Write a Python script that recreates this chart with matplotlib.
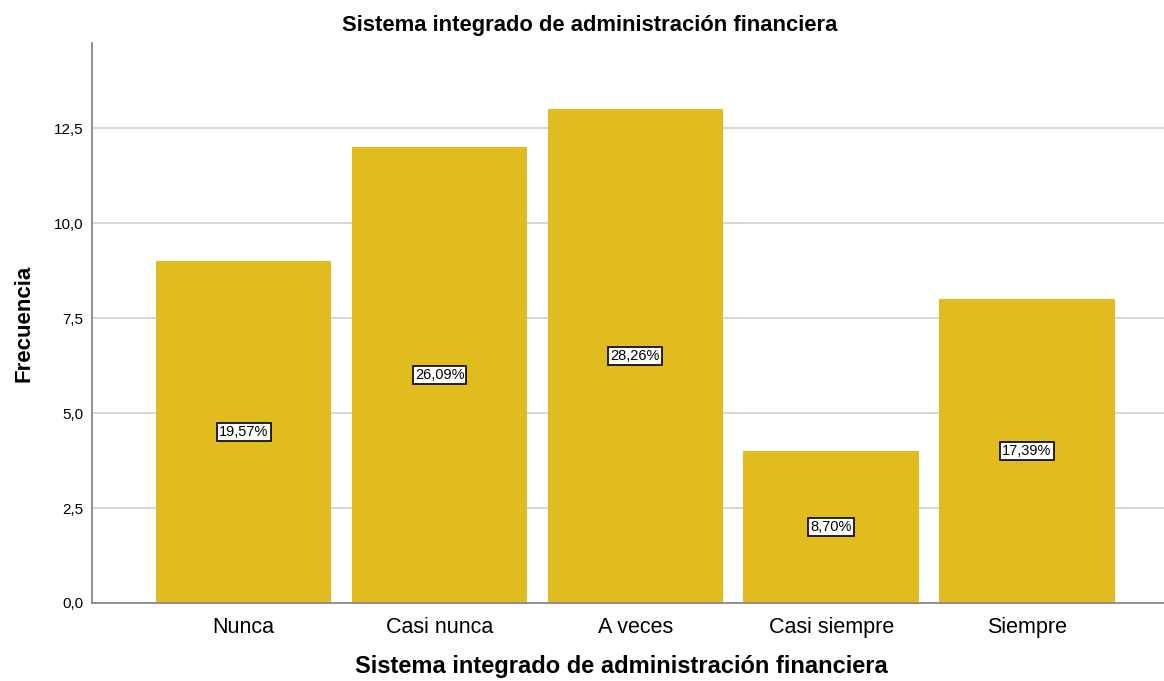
import matplotlib
matplotlib.use("Agg")
import matplotlib.pyplot as plt
from matplotlib.ticker import FuncFormatter

categories = ["Nunca", "Casi nunca", "A veces", "Casi siempre", "Siempre"]
counts = [9, 12, 13, 4, 8]
pct_labels = ["19,57%", "26,09%", "28,26%", "8,70%", "17,39%"]
yticks = [0, 2.5, 5.0, 7.5, 10.0, 12.5]

plt.rcParams['font.family'] = ['Liberation Sans', 'DejaVu Sans']

fig = plt.figure(figsize=(11.64, 6.81), dpi=100)
ax = fig.add_axes([92/1164, 1-603/681, 1-92/1164, (603-43)/681])

x = list(range(len(categories)))
ax.bar(x, counts, width=0.896, color='#E0BC1E', zorder=2)
for xi, c, lab in zip(x, counts, pct_labels):
    ax.text(xi, c/2, lab, ha='center', va='center', fontsize=10.5, zorder=4,
            bbox=dict(boxstyle='square,pad=0.15', facecolor='white', edgecolor='black', linewidth=1.2))

ax.set_xlim(-0.775, 4.70)
ax.set_ylim(0, 14.74)
ax.set_yticks(yticks)
ax.yaxis.set_major_formatter(FuncFormatter(lambda v, p: f"{v:.1f}".replace('.', ',')))
ax.set_xticks(x)
ax.set_xticklabels(categories, fontsize=15.5)
ax.tick_params(axis='y', length=0, labelsize=11, pad=6)
ax.tick_params(axis='x', length=0, pad=10)
ax.grid(axis='y', color='#d0d0d0', linewidth=1.2, zorder=1)
for s in ['top', 'right']:
    ax.spines[s].set_visible(False)
for s in ['left', 'bottom']:
    ax.spines[s].set_color('#888888')
    ax.spines[s].set_linewidth(1.3)
    ax.spines[s].set_zorder(3)

ax.set_ylabel("Frecuencia", fontsize=16, fontweight='bold', labelpad=14)
fig.text(621/1164, 1-667/681, "Sistema integrado de administración financiera",
         ha='center', va='center', fontsize=17, fontweight='bold')
fig.text(590/1164, 1-25/681, "Sistema integrado de administración financiera",
         ha='center', va='center', fontsize=15.8, fontweight='bold')

fig.savefig("out.png", dpi=100)
